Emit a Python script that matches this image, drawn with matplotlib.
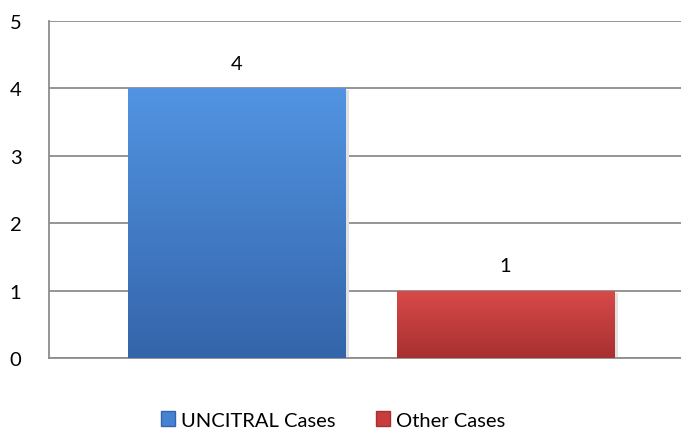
import numpy as np
import matplotlib.pyplot as plt
from matplotlib.colors import to_rgb
from matplotlib.patches import Patch

categories = ["UNCITRAL Cases", "Other Cases"]
values = [4, 1]
colors = ["#4682d4", "#c83c3c"]
dark_colors = ["#3465aa", "#a83030"]
light_colors = ["#5294e2", "#d84a4a"]
y_ticks = [0, 1, 2, 3, 4, 5]

plt.rcParams['font.family'] = ['Lato', 'DejaVu Sans']

fig = plt.figure(figsize=(6.81, 4.31), dpi=100)
ax = fig.add_axes([49 / 681, 1 - 359 / 431, (681 - 49) / 681, (359 - 22) / 431])

x = np.arange(len(values))
width = 0.808
bars = ax.bar(x, values, width=width, color=colors, edgecolor="none", zorder=3)

# vertical gradient inside each bar, clipped to the bar
for b, c_top, c_bot in zip(bars, light_colors, dark_colors):
    x0, y0 = b.get_x(), b.get_y()
    w, h = b.get_width(), b.get_height()
    t = np.linspace(0, 1, 100)[:, None]
    top = np.array(to_rgb(c_top))
    bot = np.array(to_rgb(c_bot))
    grad = (bot * (1 - t)[..., None] + top * t[..., None])
    grad = np.repeat(grad, 2, axis=1)
    im = ax.imshow(grad, extent=[x0, x0 + w, y0, y0 + h], origin="lower",
                   aspect="auto", zorder=4)
    im.set_clip_path(b)
    # soft shadow at right
    ax.bar(x0 + w / 2 + 0.015, h, width=w, bottom=y0 - 0.03, color="#e2e2e2",
           edgecolor="none", zorder=2, align="center")

for xi, v in zip(x, values):
    ax.annotate(str(v), (xi, v), xytext=(0, 18), textcoords="offset points",
                ha="center", va="center", fontsize=14.5, color="black")

ax.set_xlim(-0.698, 1.655)
ax.set_ylim(0, 5)
ax.set_yticks(y_ticks)
ax.set_xticks([])
ax.tick_params(axis="y", length=0, pad=24, labelsize=14.5)
for lab in ax.get_yticklabels():
    lab.set_horizontalalignment("center")
ax.yaxis.grid(True, color="#8c8c8c", linewidth=1.3, zorder=1)
ax.set_axisbelow(True)
for s in ["top", "right"]:
    ax.spines[s].set_visible(False)
for s in ["left", "bottom"]:
    ax.spines[s].set_color("#8c8c8c")
    ax.spines[s].set_linewidth(1.3)

handles = [Patch(facecolor=c, edgecolor=d) for c, d in zip(colors, dark_colors)]
fig.legend(handles, categories, loc="center", bbox_to_anchor=(333 / 681, 1 - 421 / 431),
           ncol=2, frameon=False, fontsize=14.5, handlelength=0.7, handleheight=0.7,
           handletextpad=0.3, columnspacing=2.0)

fig.savefig("out.png", dpi=100)
